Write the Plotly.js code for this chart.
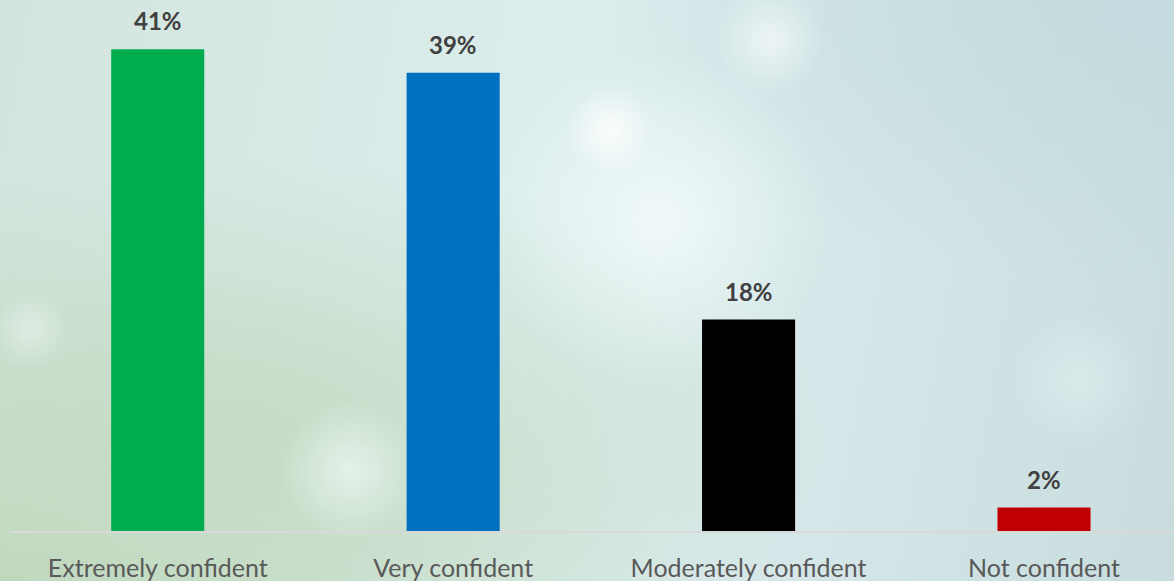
<!DOCTYPE html>
<html>
<head>
<meta charset="utf-8">
<script src="https://cdn.plot.ly/plotly-3.0.1.min.js"></script>
<style>
html,body{margin:0;padding:0;width:1174px;height:581px;overflow:hidden;}
body{
background:
 radial-gradient(circle at 610px 130px, rgba(255,255,255,0.85) 0, rgba(255,255,255,0) 45px),
 radial-gradient(circle at 770px 40px, rgba(255,255,255,0.6) 0, rgba(255,255,255,0) 55px),
 radial-gradient(circle at 660px 220px, rgba(245,252,252,0.8) 0, rgba(245,252,252,0) 170px),
 radial-gradient(circle at 350px 470px, rgba(240,250,248,0.7) 0, rgba(240,250,248,0) 70px),
 radial-gradient(circle at 1080px 380px, rgba(225,240,240,0.6) 0, rgba(225,240,240,0) 70px),
 radial-gradient(circle at 30px 330px, rgba(235,245,240,0.6) 0, rgba(235,245,240,0) 40px),
 radial-gradient(ellipse at 20% 75%, #c6dcc6 0, rgba(198,220,198,0) 45%),
 radial-gradient(ellipse at 0% 100%, #bcd6b8 0, rgba(188,214,184,0) 40%),
 radial-gradient(ellipse at 100% 0%, #c3dade 0, rgba(195,218,222,0) 35%),
 linear-gradient(100deg, #d2e4dc 0%, #dceeed 45%, #d3e5e6 75%, #c8dcde 100%);
}
#chart{width:1174px;height:581px;}
</style>
</head>
<body>
<div id="chart"></div>
<script>
const categories = ["Extremely confident", "Very confident", "Moderately confident", "Not confident"];
const values = [41, 39, 18, 2];
const labels = ["41%", "39%", "18%", "2%"];
const colors = ["#00ac4e", "#0070c0", "#000000", "#c00000"];

const trace = {
  type: "bar",
  x: categories,
  y: values,
  marker: {color: colors},
  hoverinfo: "none"
};

const annotations = categories.map((c, i) => ({
  x: c, y: values[i], text: "<b>" + labels[i] + "</b>",
  showarrow: false, yanchor: "bottom", yshift: 12,
  font: {family: "Lato, 'Open Sans', sans-serif", size: 24, color: "#404040"}
}));

const layout = {
  width: 1174, height: 581,
  margin: {l: 10, r: 0, t: 0, b: 50},
  paper_bgcolor: "rgba(0,0,0,0)",
  plot_bgcolor: "rgba(0,0,0,0)",
  bargap: 0.685,
  showlegend: false,
  xaxis: {
    type: "category",
    range: [-0.5, 3.44],
    showline: true, linecolor: "#d9d9d9", linewidth: 2,
    showgrid: false, zeroline: false,
    ticks: "", ticklabelstandoff: 14,
    tickfont: {family: "Lato, 'Open Sans', sans-serif", size: 25, color: "#595959"},
    fixedrange: true
  },
  yaxis: {
    range: [0, 45.2],
    visible: false, showgrid: false, zeroline: false, fixedrange: true
  },
  annotations: annotations
};

Plotly.newPlot("chart", [trace], layout, {displayModeBar: false, staticPlot: true});
</script>
</body>
</html>
